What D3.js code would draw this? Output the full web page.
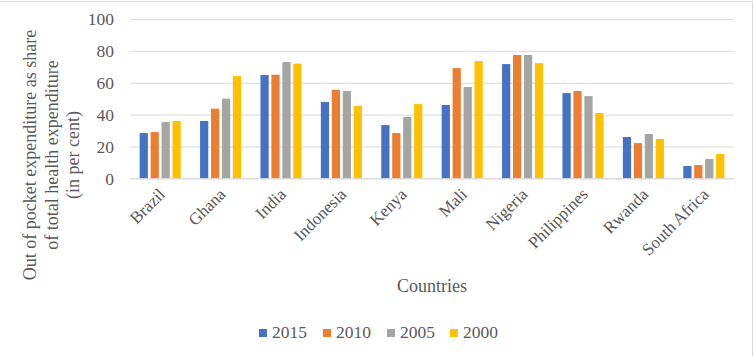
<!DOCTYPE html>
<html><head><meta charset="utf-8">
<script src="https://cdn.jsdelivr.net/npm/d3@7"></script>
<style>body{margin:0;background:#fff}svg{display:block}</style>
</head><body>
<svg id="c" width="754" height="356"></svg>
<script>
const countries = ["Brazil","Ghana","India","Indonesia","Kenya","Mali","Nigeria","Philippines","Rwanda","South Africa"];
const years = ["2015","2010","2005","2000"];
const v2015 = [28.4,36,64.8,47.9,33.4,46,71.7,53.5,25.9,7.7];
const v2010 = [29,43.7,65,55.6,28.4,69.2,77.4,54.8,22.1,8.3];
const v2005 = [35.3,50,73,54.8,38.5,57.3,77.4,51.6,27.8,12.1];
const v2000 = [36,64.2,72,45.4,46.6,73.6,72.3,41,24.7,15.3];
const yTicks = [0,20,40,60,80,100];
const colors = ["#4472C4","#ED7D31","#A5A5A5","#FFC000"];
const series = [v2015,v2010,v2005,v2000];
const yTitle = ["Out of pocket expenditure as share","of total health expenditure","(in per cent)"];

const FONT = "Liberation Serif";
const svg = d3.select("#c").attr("font-family",FONT);
// frame
svg.append("line").attr("x1",0).attr("x2",752.5).attr("y1",1.5).attr("y2",1.5).attr("stroke","#d9d9d9");
svg.append("line").attr("x1",752.5).attr("x2",752.5).attr("y1",1.5).attr("y2",356).attr("stroke","#d9d9d9");

const L=130,R=734,T=19,B=178.3;
const x = d3.scaleBand().domain(countries).range([L,R]).paddingInner(0.32).paddingOuter(0.16);
const xi = d3.scaleBand().domain(years).range([0,x.bandwidth()]).paddingInner(0.25);
const y = d3.scaleLinear().domain([0,100]).range([B,T]);

const gy = svg.append("g").attr("transform",`translate(${L},0)`)
  .call(d3.axisLeft(y).tickValues(yTicks).tickSize(-(R-L)).tickPadding(16));
gy.attr("font-family",FONT).attr("font-size",17.5);
gy.select(".domain").remove();
gy.selectAll(".tick line").attr("stroke","#d9d9d9");
gy.selectAll(".tick text").attr("fill","#595959").attr("font-family",FONT).attr("dy","0.33em");

const g = svg.append("g");
countries.forEach((c,i)=>{
  years.forEach((yr,j)=>{
    g.append("rect").attr("x",x(c)+xi(yr)).attr("width",xi.bandwidth())
      .attr("y",y(series[j][i])).attr("height",B-y(series[j][i])).attr("fill",colors[j]);
  });
});

const gx = svg.append("g").attr("transform",`translate(0,${B})`)
  .call(d3.axisBottom(x).tickSize(0).tickPadding(0));
gx.attr("font-family",FONT).attr("font-size",17);
gx.select(".domain").attr("stroke","#d9d9d9");
gx.selectAll(".tick text").attr("fill","#595959").attr("font-family",FONT)
  .attr("text-anchor","end").attr("dy","0").attr("y",0)
  .attr("transform","translate(6,17) rotate(-45)");

svg.append("text").attr("x",432).attr("y",292).attr("text-anchor","middle")
  .attr("font-family",FONT).attr("font-size",18).attr("fill","#595959").text("Countries");

const yt = svg.append("text").attr("transform","translate(0,155) rotate(-90)")
  .attr("text-anchor","middle").attr("font-family",FONT).attr("font-size",18).attr("fill","#595959");
yTitle.forEach((t,i)=>{
  yt.append("tspan").attr("x",0).attr("y",36+i*21.5).text(t);
});

const lg = svg.append("g").attr("transform","translate(259,338)");
const lx = d3.scaleOrdinal().domain(years).range([0,64,128,191]);
years.forEach((yr,j)=>{
  lg.append("rect").attr("x",lx(yr)).attr("y",-9).attr("width",8).attr("height",8).attr("fill",colors[j]);
  lg.append("text").attr("x",lx(yr)+13).attr("y",0).attr("font-family",FONT).attr("font-size",17.5)
    .attr("fill","#595959").text(yr);
});
</script>
</body></html>
